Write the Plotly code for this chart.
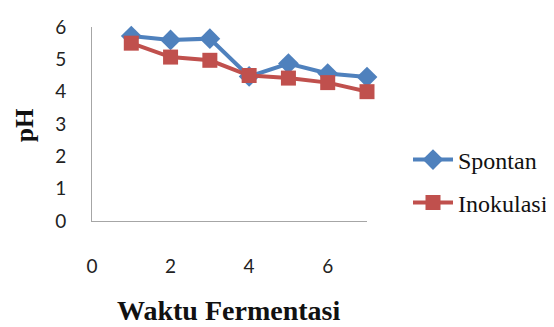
import plotly.graph_objects as go

days = [1, 2, 3, 4, 5, 6, 7]
spontan = [5.72, 5.6, 5.64, 4.47, 4.87, 4.56, 4.45]
inokulasi = [5.5, 5.07, 4.97, 4.5, 4.42, 4.28, 4.0]
x_ticks = [0, 2, 4, 6]
y_ticks = [0, 1, 2, 3, 4, 5, 6]

blue = "#4F81BD"
red = "#C0504D"

# page has an 8px body margin; figure laid out in page pixels minus 8
W, H = 546, 327
L, R_EDGE, T, B_EDGE = 84, 359, 19, 213
PW, PH = R_EDGE - L, B_EDGE - T


def px(xr):
    return (xr - 8 - L) / PW


def py(yr):
    return (B_EDGE - (yr - 8)) / PH


fig = go.Figure()
fig.add_trace(go.Scatter(x=days, y=spontan, name="Spontan", mode="lines+markers",
                         line=dict(color=blue, width=4),
                         marker=dict(symbol="diamond", size=16, color=blue),
                         legend="legend", cliponaxis=False))
fig.add_trace(go.Scatter(x=days, y=inokulasi, name="Inokulasi", mode="lines+markers",
                         line=dict(color=red, width=4),
                         marker=dict(symbol="square", size=15, color=red),
                         legend="legend2", cliponaxis=False))

tickfont = dict(family="Lato, Open Sans, sans-serif", size=19, color="#222")
legfont = dict(family="Liberation Serif, Times New Roman, serif", size=24, color="#111")
fig.update_layout(
    width=W, height=H,
    margin=dict(l=L, r=W - R_EDGE, t=T, b=H - B_EDGE, autoexpand=False),
    paper_bgcolor="white", plot_bgcolor="white",
    xaxis=dict(range=[0, 7], tickvals=x_ticks, showgrid=False, zeroline=False,
               showline=True, linecolor="#A6A6A6", linewidth=1, ticks="",
               tickfont=tickfont, ticklabelstandoff=28, automargin=False),
    yaxis=dict(range=[0, 6], tickvals=y_ticks, showgrid=False, zeroline=False,
               showline=True, linecolor="#A6A6A6", linewidth=1, ticks="",
               tickfont=tickfont, ticklabelstandoff=21, automargin=False),
    legend=dict(x=px(408), y=py(160), xanchor="left", yanchor="middle",
                font=legfont, bgcolor="rgba(0,0,0,0)", itemwidth=40),
    legend2=dict(x=px(408), y=py(203), xanchor="left", yanchor="middle",
                 font=legfont, bgcolor="rgba(0,0,0,0)", itemwidth=40),
    showlegend=True,
)

fig.add_annotation(text="<b>pH</b>", x=px(24), y=py(125),
                   xref="paper", yref="paper", xanchor="center", yanchor="middle",
                   showarrow=False, textangle=-90,
                   font=dict(family="Liberation Serif, serif", size=25, color="#111"))
fig.add_annotation(text="<b>Waktu Fermentasi</b>", x=px(228), y=py(310),
                   xref="paper", yref="paper", xanchor="center", yanchor="middle",
                   showarrow=False,
                   font=dict(family="Liberation Serif, serif", size=28, color="#111"))

fig.write_html("out.html")
